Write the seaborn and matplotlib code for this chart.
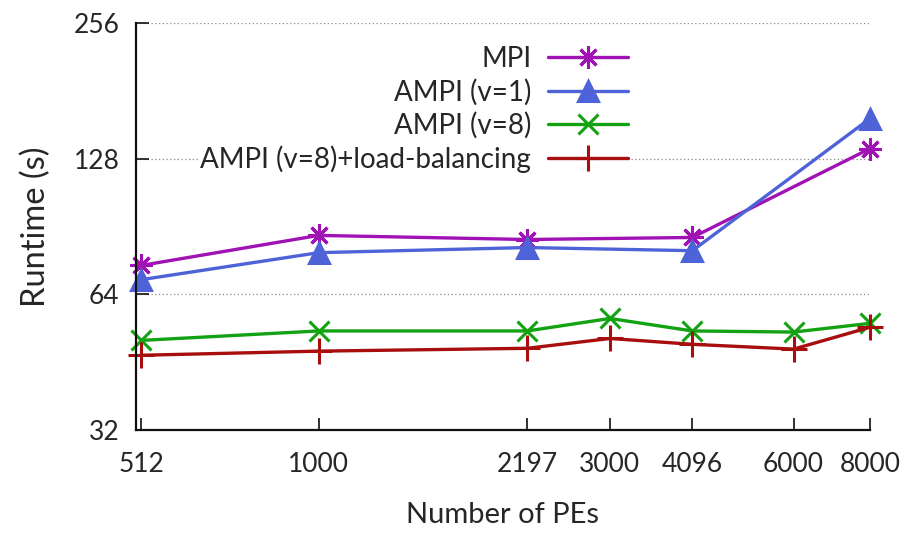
import numpy as np
import pandas as pd
import seaborn as sns
import matplotlib
matplotlib.use("Agg")
import matplotlib.pyplot as plt
from matplotlib.ticker import FixedLocator, FixedFormatter, NullLocator

# --- data ---
pes_all = [512, 1000, 2197, 3000, 4096, 6000, 8000]
pes_mpi = [512, 1000, 2197, 4096, 8000]

mpi = [74.2, 86.5, 84.7, 85.6, 134.7]
ampi_v1 = [69.0, 79.2, 81.3, 80.0, 157.0]
ampi_v8 = [50.6, 53.1, 53.1, 56.6, 53.1, 52.8, 55.2]
ampi_v8_lb = [46.9, 47.9, 48.6, 51.1, 49.6, 48.4, 54.1]

series_names = ["MPI", "AMPI (v=1)", "AMPI (v=8)", "AMPI (v=8)+load-balancing"]
y_ticks = [32, 64, 128, 256]

sns.set_style("ticks")
plt.rcParams['font.family'] = ['Lato', 'DejaVu Sans']

fig = plt.figure(figsize=(9.07, 5.33), dpi=100)
ax = fig.add_axes([0.150, 0.193, 0.809, 0.764])

# one small frame per series
frames = [
    pd.DataFrame({"PEs": pes_mpi, "Runtime": mpi}),
    pd.DataFrame({"PEs": pes_mpi, "Runtime": ampi_v1}),
    pd.DataFrame({"PEs": pes_all, "Runtime": ampi_v8}),
    pd.DataFrame({"PEs": pes_all, "Runtime": ampi_v8_lb}),
]
colors = ["#a012b4", "#4e63d8", "#12a212", "#a80e0e"]
markers = [(8, 2, 0), "^", "x", "+"]
msizes = [16, 14, 15, 19]

for df, name, c, m, ms in zip(frames, series_names, colors, markers, msizes):
    sns.lineplot(data=df, x="PEs", y="Runtime", ax=ax, color=c, marker=m,
                 markersize=ms, markeredgewidth=2.2, markeredgecolor=c,
                 linewidth=2.4, label=name, clip_on=False)

ax.set_xscale("log")
ax.set_yscale("log", base=2)
ax.set_xlim(502, 8000)
ax.set_ylim(32, 256)

ax.xaxis.set_major_locator(FixedLocator(pes_all))
ax.xaxis.set_major_formatter(FixedFormatter([str(p) for p in pes_all]))
ax.xaxis.set_minor_locator(NullLocator())
ax.yaxis.set_major_locator(FixedLocator(y_ticks))
ax.yaxis.set_major_formatter(FixedFormatter([str(t) for t in y_ticks]))
ax.yaxis.set_minor_locator(NullLocator())

ax.tick_params(axis="both", direction="in", length=9, width=1.3, labelsize=19, color="#222222")
ax.tick_params(axis="x", pad=16)
ax.tick_params(axis="y", pad=12)

ax.yaxis.grid(True, linestyle=(0, (1, 2)), color="#888888", linewidth=0.9)
sns.despine(ax=ax)
for s in ["left", "bottom"]:
    ax.spines[s].set_linewidth(1.6)
    ax.spines[s].set_color("#111111")

ax.set_xlabel("Number of PEs", fontsize=21, labelpad=18)
ax.set_ylabel("Runtime (s)", fontsize=23.5, labelpad=16)

leg = ax.legend(loc="upper right", bbox_to_anchor=(0.671, 0.944), markerfirst=False,
                frameon=True, fontsize=20, handlelength=2.9, handletextpad=0.6,
                labelspacing=0.24, borderpad=0.0, borderaxespad=0.0)
leg.get_frame().set_facecolor("white")
leg.get_frame().set_edgecolor("none")
leg.get_frame().set_alpha(1.0)
for t in leg.get_texts():
    t.set_ha("right")

fig.savefig("out.png", dpi=100)
